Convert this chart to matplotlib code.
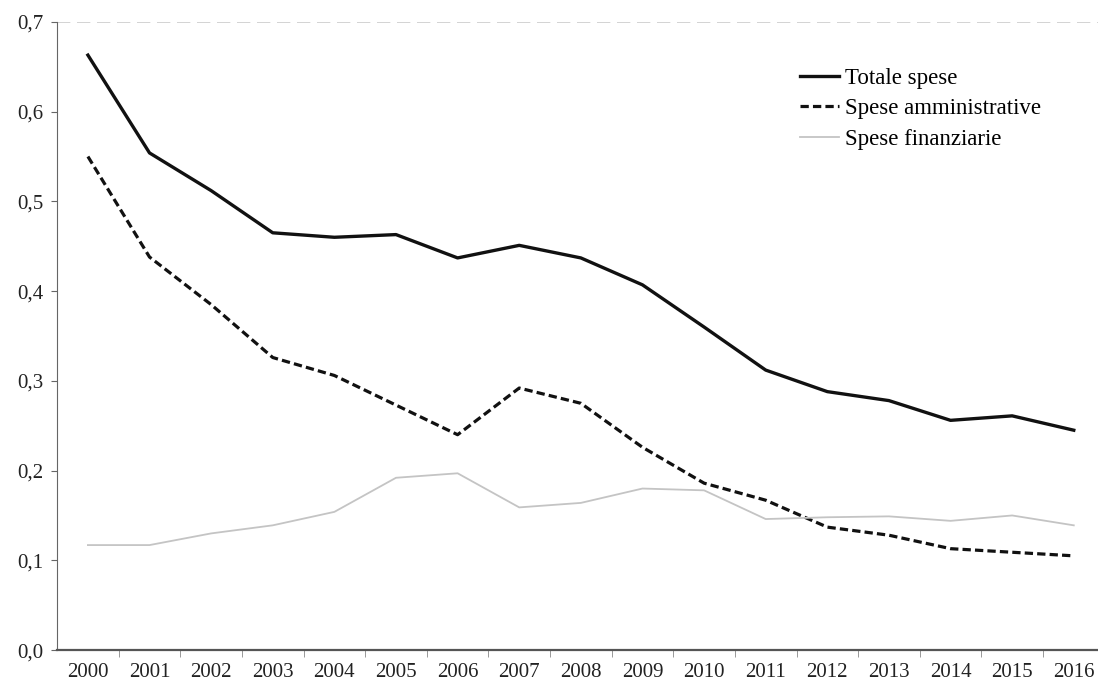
import matplotlib
matplotlib.use("Agg")
import matplotlib.pyplot as plt
import numpy as np

anni = ['2000', '2001', '2002', '2003', '2004', '2005', '2006', '2007', '2008',
        '2009', '2010', '2011', '2012', '2013', '2014', '2015', '2016']
totale_spese = [0.663, 0.554, 0.512, 0.465, 0.46, 0.463, 0.437, 0.451, 0.437,
                0.407, 0.36, 0.312, 0.288, 0.278, 0.256, 0.261, 0.245]
spese_amministrative = [0.55, 0.438, 0.385, 0.326, 0.306, 0.273, 0.24, 0.292, 0.275,
                        0.226, 0.186, 0.167, 0.137, 0.128, 0.113, 0.109, 0.105]
spese_finanziarie = [0.117, 0.117, 0.13, 0.139, 0.154, 0.192, 0.197, 0.159, 0.164,
                     0.18, 0.178, 0.146, 0.148, 0.149, 0.144, 0.15, 0.139]
valori_y = np.arange(0, 0.71, 0.1)

plt.rcParams['font.family'] = ['Liberation Serif', 'DejaVu Serif']

fig = plt.figure(figsize=(10.98, 6.85), dpi=100)
ax = fig.add_axes([0.052, 0.051, 0.954, 0.917])

x = np.arange(len(anni))
ax.plot(x, totale_spese, color='#111111', lw=2.4, label='Totale spese')
ax.plot(x, spese_amministrative, color='#111111', lw=2.3, ls=(0, (2.6, 1.3)),
        label='Spese amministrative')
ax.plot(x, spese_finanziarie, color='#c4c4c4', lw=1.3, label='Spese finanziarie')

ax.set_xlim(-0.5, len(anni) - 0.5)
ax.set_ylim(0, 0.7)
ax.set_yticks(valori_y)
ax.set_yticklabels([f'{v:.1f}'.replace('.', ',') for v in valori_y],
                   fontsize=15, color='#222222')
ax.set_xticks(x)
ax.set_xticklabels(anni, fontsize=15, color='#222222')
ax.set_xticks(np.arange(0.5, len(anni) - 1, 1), minor=True)
ax.tick_params(axis='x', which='major', length=0, pad=9)
ax.tick_params(axis='x', which='minor', length=5, color='#888888', direction='out')
ax.tick_params(axis='y', length=4, color='#666666', direction='out', pad=6)

for s in ['top', 'right']:
    ax.spines[s].set_visible(False)
ax.spines['left'].set_color('#666666')
ax.spines['bottom'].set_color('#555555')
ax.spines['bottom'].set_linewidth(1.6)
ax.axhline(0.7, color='#cccccc', lw=1.2, ls=(0, (8, 4)))

ax.legend(loc='upper left', bbox_to_anchor=(0.69, 0.96), frameon=False,
          fontsize=16.5, handlelength=1.7, handletextpad=0.25, labelspacing=0.42)

fig.savefig('out.png', dpi=100)
